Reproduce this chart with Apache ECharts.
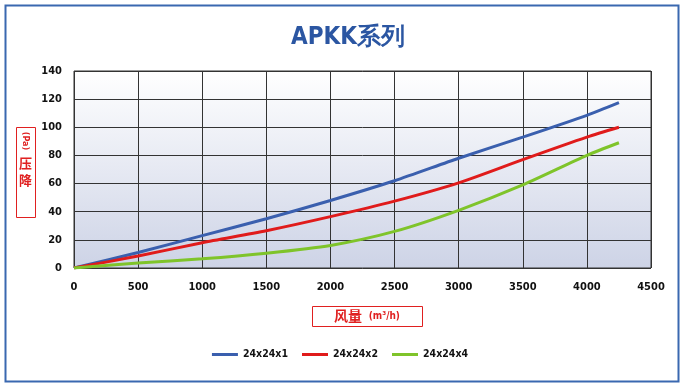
<!DOCTYPE html>
<html><head><meta charset="utf-8">
<script src="https://cdn.jsdelivr.net/npm/echarts@6/dist/echarts.min.js"></script>
<style>html,body{margin:0;padding:0;background:#fff}#c{width:680px;height:384px}</style>
</head><body><div id="c"></div>
<script>
const title = 'APKK系列';
const xTicks = [0,500,1000,1500,2000,2500,3000,3500,4000,4500];
const airflow = [0,500,1000,1500,2000,2500,3000,3500,4000,4250];
const s1Name = '24x24x1';
const s1 = [0,11,23,35,48,62,78,93,108.5,117.5];
const s2Name = '24x24x2';
const s2 = [0,8.5,18,26.5,36.5,47.5,60.5,77,93,100];
const s3Name = '24x24x4';
const s3 = [0,3.5,6.5,10.5,16,26,41,59,80,89];
const yName = '压降';
const yUnit = '(Pa)';
const xName = '风量';
const xUnit = '(m³/h)';

const font = '"DejaVu Sans Condensed","Liberation Sans Narrow",sans-serif';
const chart = echarts.init(document.getElementById('c'));
const mk = (a)=>airflow.map((x,i)=>[x,a[i]]);
const ser = (name,data,color)=>({name,type:'line',data:mk(data),smooth:0.25,symbol:'none',
  lineStyle:{color,width:3},itemStyle:{color}});
chart.setOption({
  animation:false,
  title:{text:title,left:286,top:21,textStyle:{fontFamily:font,fontSize:24,fontWeight:'bold',color:'#2b56a2'}},
  grid:{left:74,right:29,top:71,bottom:116,show:true,borderColor:'#333',borderWidth:1,
    backgroundColor:new echarts.graphic.LinearGradient(0,0,0,1,[{offset:0,color:'#ffffff'},{offset:1,color:'#cdd3e6'}])},
  legend:{bottom:19,left:'center',itemWidth:26,itemHeight:3,itemGap:14,icon:'rect',
    textStyle:{fontFamily:font,fontWeight:'bold',fontSize:10.5,color:'#111'},
    data:[s1Name,s2Name,s3Name]},
  xAxis:{type:'value',min:0,max:4500,interval:500,
    axisLine:{show:false},axisTick:{show:false},
    axisLabel:{fontFamily:font,fontWeight:'bold',fontSize:11,color:'#111',margin:14,
      formatter:(v)=>xTicks.includes(v)?String(v):''},
    splitLine:{lineStyle:{color:'#333',width:1}}},
  yAxis:{type:'value',min:0,max:140,interval:20,
    axisLine:{show:false},axisTick:{show:false},
    axisLabel:{fontFamily:font,fontWeight:'bold',fontSize:11,color:'#111',margin:12},
    splitLine:{lineStyle:{color:'#333',width:1}}},
  series:[ser(s1Name,s1,'#3a5fae'),ser(s2Name,s2,'#e01b1b'),ser(s3Name,s3,'#7fc42a')],
  graphic:[
    {type:'rect',left:3,top:3,shape:{width:673,height:376},style:{fill:'none',stroke:'#3a68b0',lineWidth:2},z:-1},
    {type:'rect',left:16,top:127,shape:{width:19,height:90},style:{fill:'#fff',stroke:'#e02020',lineWidth:1}},
    {type:'text',x:25.5,y:141,rotation:-Math.PI/2,style:{text:yUnit,fill:'#e02020',font:'bold 9px '+font,align:'center',verticalAlign:'middle'}},
    {type:'text',x:25.5,y:172,style:{text:'压\n降',fill:'#e02020',font:'bold 13px "Noto Sans CJK SC"',align:'center',verticalAlign:'middle',lineHeight:17}},
    {type:'rect',left:312,top:306,shape:{width:110,height:20},style:{fill:'#fff',stroke:'#e02020',lineWidth:1}},
    {type:'text',x:367,y:316,style:{text:'{a|'+xName+'}  {b|'+xUnit+'}',align:'center',verticalAlign:'middle',
      rich:{a:{fill:'#e02020',font:'bold 14px "Noto Sans CJK SC"'},b:{fill:'#e02020',font:'bold 10px '+font}}}}
  ]
});
</script></body></html>
